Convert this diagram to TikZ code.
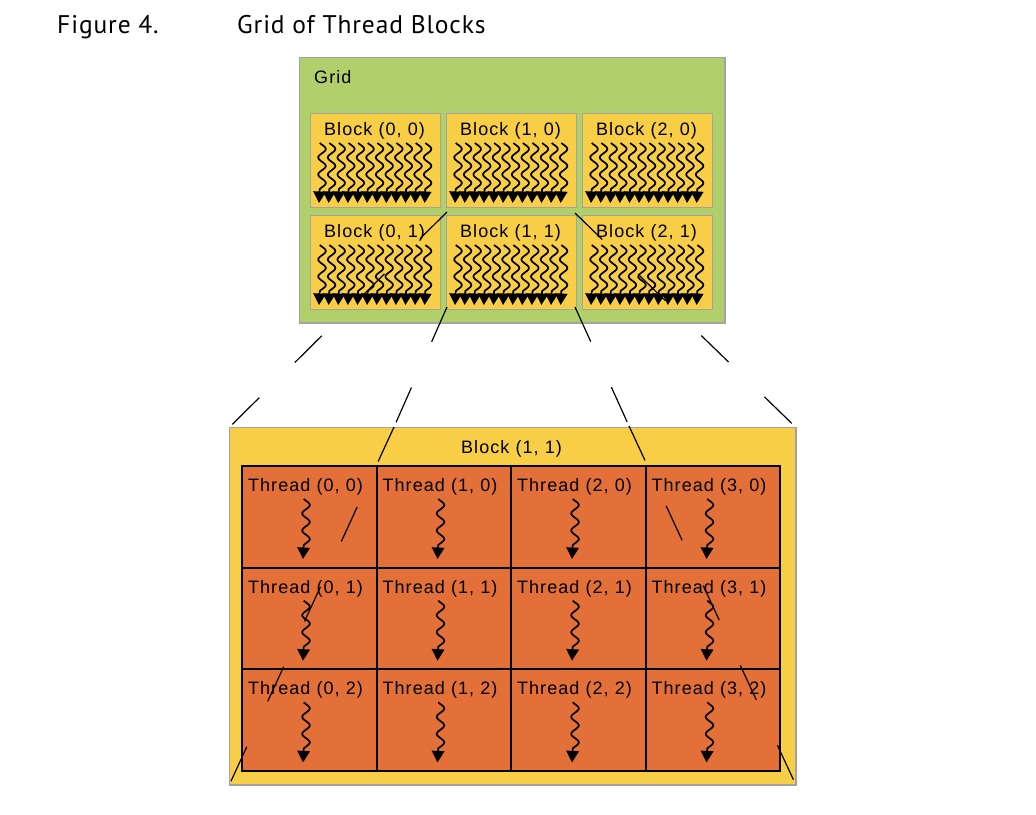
\documentclass[tikz,border=0pt]{standalone}
\usepackage{fontspec}
\setmainfont{Liberation Sans}[LetterSpace=6]
\newfontfamily\titlefont{PT Sans}[LetterSpace=3.5]
\usetikzlibrary{arrows.meta,calc}
\definecolor{gridgreen}{HTML}{B1D06B}
\definecolor{blockyellow}{HTML}{F7CE45}
\definecolor{threadorange}{HTML}{E27038}
\definecolor{edgegray}{HTML}{A3A3A3}
\tikzset{
 x=1pt,y=-1pt,
 panel/.style={draw=edgegray,line width=1.5pt,anchor=north west,inner sep=0pt,outer sep=0pt},
 gridpanel/.style={panel,fill=gridgreen,minimum width=425.5pt,minimum height=265.5pt},
 blockpanel/.style={panel,fill=blockyellow,minimum width=130pt,minimum height=94pt},
 bigpanel/.style={panel,fill=blockyellow,minimum width=566.5pt,minimum height=357.5pt},
 threadcell/.style={fill=threadorange,anchor=north west,inner sep=0pt,outer sep=0pt,minimum width=134.5pt,minimum height=101.7pt},
 cellframe/.style={draw=black,line width=2pt},
 lbl/.style={inner sep=0pt,font=\fontsize{18}{20}\selectfont,anchor=base},
 titlelbl/.style={inner sep=0pt,font=\titlefont\fontsize{25.5}{28}\selectfont,anchor=base west},
 threadline/.style={black,line width=1.7pt,line join=round,-{Triangle[width=12.5pt,length=11.5pt]}},
 guide/.style={black,line width=1.2pt,dash pattern=on 38pt off 50pt},
}
\newcommand{\threadwave}[2]{%
 \draw[threadline] plot[domain=0:46,samples=36,smooth,variable=\t]
   ({#1+3+3.8*sin(360*(\t-1.75)/17)},{#2+\t}) -- ({#1},{#2+60});}
\newcommand{\smallthreads}[2]{%
 \foreach \i in {0,...,11}{\threadwave{#1+8.5+9.6*\i}{#2+29.5}}}
\begin{document}
\begin{tikzpicture}
\useasboundingbox (0,0) rectangle (1036,814);
\node[titlelbl] (figno) at (57,33) {Figure 4.};
\node[titlelbl] (figname) at (237,33) {Grid of Thread Blocks};
\node[gridpanel] (grid) at (299.3,57.3) {};
\node[lbl,anchor=base west] (gridlabel) at (314,83.6) {Grid};
\foreach \c/\x in {0/310.5,1/446.5,2/582.5}{
 \foreach \r/\y in {0/113.5,1/215.5}{
  \node[blockpanel] (b\c\r) at (\x,\y) {};
  \node[lbl] (bl\c\r) at ({\x+64},{\y+21.5}) {Block (\c, \r)};
  \smallthreads{\x}{\y}
 }}
\node[bigpanel] (big) at (229.3,427.3) {};
\node[lbl] (biglabel) at (511.5,453) {Block (1, 1)};
\foreach \c/\x in {0/242,1/376.5,2/511,3/645.5}{
 \foreach \r/\y in {0/466,1/567.7,2/669.4}{
  \node[threadcell] (t\c\r) at (\x,\y) {};
 }}
\foreach \c/\x in {0/242,1/376.5,2/511,3/645.5}{
 \foreach \r/\y in {0/466,1/567.7,2/669.4}{
  \draw[cellframe] (t\c\r.north west) rectangle (t\c\r.south east);
  \node[lbl] (tl\c\r) at ({\x+63.5},{\y+25.3}) {Thread (\c, \r)};
  \threadwave{\x+61}{\y+33}
 }}
\coordinate (a1) at ([shift={(.5,-3.5)}]b11.north west);
\coordinate (a2) at ([shift={(.5,-2.5)}]b11.south west);
\coordinate (a3) at ([shift={(-1.5,-2.5)}]b11.north east);
\coordinate (a4) at ([shift={(-1.5,-2.5)}]b11.south east);
\coordinate (k2) at (394,427);
\coordinate (k4) at (629,426);
\draw[guide] (a1) -- (big.north west);
\draw[guide] (a3) -- (big.north east);
\draw[guide] (a2) -- (k2);
\draw[guide] (k2) -- (big.south west);
\draw[guide] (a4) -- (k4);
\draw[guide] (k4) -- (big.south east);
\end{tikzpicture}
\end{document}
